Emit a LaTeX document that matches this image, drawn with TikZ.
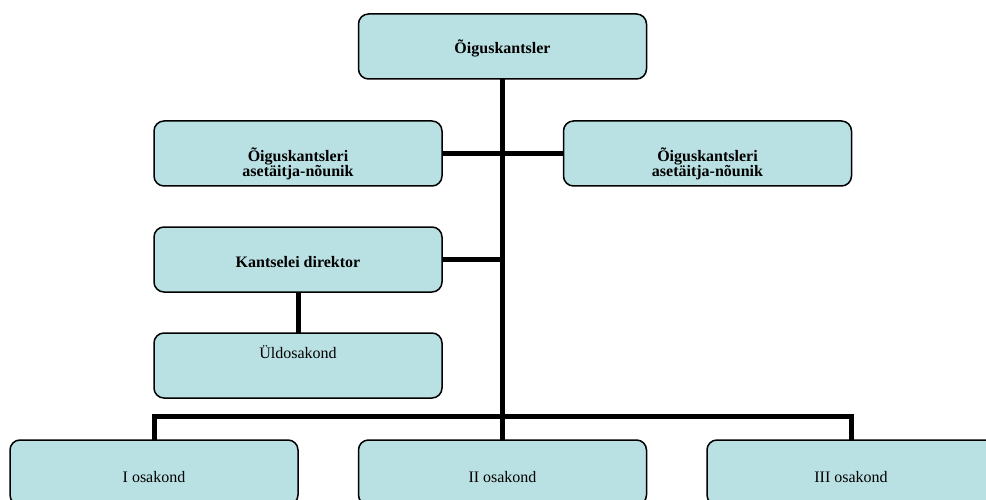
\documentclass[tikz,border=0pt]{standalone}
\usepackage{fontspec}
\setmainfont{Liberation Serif}
\definecolor{boxfill}{RGB}{185,224,227}
\begin{document}
\begin{tikzpicture}[x=1pt,y=-1pt,
  box/.style={draw=black, line width=1.5pt, rounded corners=10pt, fill=boxfill,
    minimum width=288pt, minimum height=65pt, inner sep=0pt, outer sep=0pt},
  txt/.style={anchor=base, inner sep=0pt, font=\fontsize{16}{15}\selectfont, align=center},
  btxt/.style={txt, font=\fontsize{16}{15}\selectfont\bfseries},
  conn/.style={line width=5pt, line join=miter, line cap=butt}]
\useasboundingbox (0,0) rectangle (986,500);
\clip (0,0) rectangle (986,500);
% boxes
\node[box] (top) at (502.5,46.5) {};
\node[box] (la) at (298,153.5) {};
\node[box] (ra) at (707.5,153.5) {};
\node[box] (kd) at (298,259.5) {};
\node[box] (ul) at (298,365.5) {};
\node[box] (b1) at (154,472.5) {};
\node[box] (b2) at (502.5,472.5) {};
\node[box] (b3) at (851,472.5) {};
% texts
\node[btxt] (top-t) at (502.5,54) {Õiguskantsler};
\node[btxt] (la-t) at (298,177) {Õiguskantsleri\\asetäitja-nõunik};
\node[btxt] (ra-t) at (707.5,177) {Õiguskantsleri\\asetäitja-nõunik};
\node[btxt] (kd-t) at (298,267) {Kantselei direktor};
\node[txt] (ul-t) at (298,358) {Üldosakond};
\node[txt] (b1-t) at (154,482) {I osakond};
\node[txt] (b2-t) at (502.5,482) {II osakond};
\node[txt] (b3-t) at (851,482) {III osakond};
% connectors
\coordinate (bus) at (502,416);
\draw[conn] (top.south) -- (b2.north);
\draw[conn] (b1.north) -- (b1.north |- bus) -- (b3.north |- bus) -- (b3.north);
\draw[conn] (la.east) -- (ra.west);
\draw[conn] (kd.east) -- (kd.east -| top.south);
\draw[conn] (kd.south) -- (ul.north);
\end{tikzpicture}
\end{document}
